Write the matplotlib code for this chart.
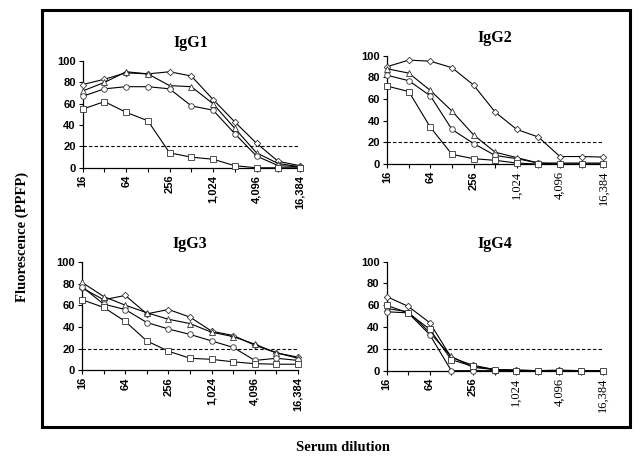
import matplotlib
matplotlib.use('Agg')
import matplotlib.pyplot as plt
from matplotlib.patches import Rectangle

# ── data ─────────────────────────────────────────────────────────────────────
DILUTIONS = ['16', '32', '64', '128', '256', '512', '1,024', '2,048', '4,096', '8,192', '16,384']
SHOWN = {'16', '64', '256', '1,024', '4,096', '16,384'}
CUTOFF = 20

IGG1_DIAMOND  = [78, 83, 89, 88, 90, 86, 64, 43, 23, 6, 2]
IGG1_TRIANGLE = [72, 80, 90, 88, 77, 76, 60, 37, 14, 4, 1]
IGG1_CIRCLE   = [67, 74, 76, 76, 74, 58, 54, 32, 11, 2, 1]
IGG1_SQUARE   = [55, 62, 52, 44, 14, 10, 8, 2, 0, 0, 0]

IGG2_DIAMOND  = [90, 96, 95, 89, 73, 48, 32, 25, 7, 7, 6.5]
IGG2_TRIANGLE = [88, 84, 68, 49, 27, 11, 6, 1, 1, 1, 1]
IGG2_CIRCLE   = [82, 77, 63, 32, 19, 8, 5, 1, 0, 0, 0]
IGG2_SQUARE   = [72, 67, 34, 9, 5, 3.5, 1, 0, 0, 0, 0]

IGG3_DIAMOND  = [76, 65, 69, 52, 56, 49, 36, 32, 23, 16, 12]
IGG3_TRIANGLE = [81, 68, 60, 53, 47, 43, 35, 31, 24, 16, 11]
IGG3_CIRCLE   = [77, 61, 56, 44, 38, 33, 27, 21, 9, 11, 9]
IGG3_SQUARE   = [65, 58, 45, 27, 17.5, 11, 10, 7.7, 6, 5.5, 5.5]

IGG4_DIAMOND  = [68, 59, 44, 12, 5, 1, 0.5, 0, 0.5, 0, 0]
IGG4_TRIANGLE = [57, 54, 35, 13, 3, 1, 0.5, 0, 0, 0, 0]
IGG4_CIRCLE   = [54, 53, 33, 0, 0, 0, 0, 0, 0, 0, 0]
IGG4_SQUARE   = [60, 53, 38, 10, 4, 1, 0, 0, 0, 0, 0]

# (title, series, axes rect, serif labels from this index on the x axis)
PANELS = [
    ('IgG1', [IGG1_DIAMOND, IGG1_TRIANGLE, IGG1_CIRCLE, IGG1_SQUARE], [0.129, 0.636, 0.339, 0.2315], 99),
    ('IgG2', [IGG2_DIAMOND, IGG2_TRIANGLE, IGG2_CIRCLE, IGG2_SQUARE], [0.604, 0.644, 0.337, 0.235], 6),
    ('IgG3', [IGG3_DIAMOND, IGG3_TRIANGLE, IGG3_CIRCLE, IGG3_SQUARE], [0.128, 0.197, 0.337, 0.235], 99),
    ('IgG4', [IGG4_DIAMOND, IGG4_TRIANGLE, IGG4_CIRCLE, IGG4_SQUARE], [0.603, 0.196, 0.337, 0.2365], 6),
]
MARKERS = ['D', '^', 'o', 's']
MSIZES  = [3.3, 4.0, 4.0, 4.0]

SERIF = 'Liberation Serif'
SANS  = 'Liberation Sans'

# ── plotting ─────────────────────────────────────────────────────────────────
fig = plt.figure(figsize=(6.41, 4.61), dpi=100)

for title, series, rect, serif_from in PANELS:
    ax = fig.add_axes(rect)
    x = list(range(len(DILUTIONS)))
    ax.axhline(CUTOFF, color='black', linestyle=(0, (3, 2)), linewidth=0.8, zorder=1)
    for vals, mk, ms in zip(series, MARKERS, MSIZES):
        ax.plot(x, vals, color='black', linewidth=0.8, marker=mk, markersize=ms,
                markerfacecolor='white', markeredgecolor='#333333', markeredgewidth=0.6,
                zorder=3, clip_on=False)
    ax.set_xlim(0, len(DILUTIONS) - 1)
    ax.set_ylim(0, 100)
    ax.set_yticks(range(0, 101, 20))
    ax.set_xticks(x)
    ax.set_xticklabels([d if d in SHOWN else '' for d in DILUTIONS], rotation=90,
                       fontsize=8, fontweight='bold', family=SANS)
    for i, lab in enumerate(ax.get_xticklabels()):
        if i >= serif_from:
            lab.set_family(SERIF)
            lab.set_fontweight('normal')
            lab.set_fontsize(9)
    for lab in ax.get_yticklabels():
        lab.set_fontsize(8)
        lab.set_fontweight('bold')
        lab.set_family(SANS)
    ax.tick_params(direction='out', length=3, width=0.8, pad=2)
    for side in ('top', 'right'):
        ax.spines[side].set_visible(False)
    for side in ('left', 'bottom'):
        ax.spines[side].set_linewidth(0.9)
    ax.set_title(title, fontsize=11.5, fontweight='bold', family=SERIF, pad=10)

fig.text(0.035, 0.485, 'Fluorescence (PPFP)', rotation=90, ha='center', va='center',
         fontsize=10.5, fontweight='bold', family=SERIF)
fig.text(0.535, 0.03, 'Serum dilution', ha='center', va='center',
         fontsize=10.5, fontweight='bold', family=SERIF)

fig.add_artist(Rectangle((42 / 641, 1 - 427 / 461), (630 - 42) / 641, (427 - 10) / 461,
                         transform=fig.transFigure, fill=False, edgecolor='black', linewidth=2.2))

fig.savefig('out.png', dpi=100)
